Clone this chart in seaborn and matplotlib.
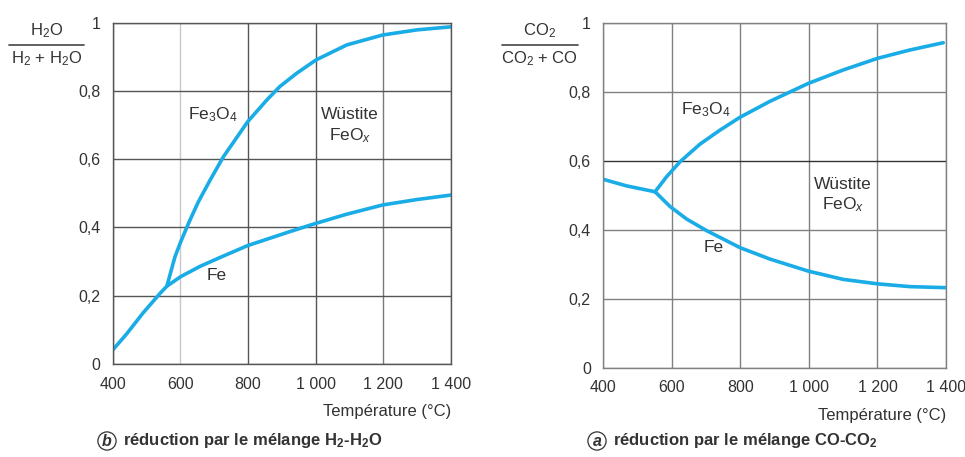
import seaborn as sns
import matplotlib.pyplot as plt

# --- data ---
# H2-H2O (panel b)
h2_fe_T = [400, 441, 490, 540, 560, 601, 658, 717, 799, 924, 1000, 1092, 1198, 1300, 1400]
h2_fe_y = [0.041, 0.088, 0.150, 0.207, 0.228, 0.256, 0.286, 0.312, 0.347, 0.388, 0.412, 0.439, 0.466, 0.482, 0.495]
h2_fe3o4_T = [560, 584, 601, 624, 653, 688, 727, 799, 855, 894, 944, 1001, 1092, 1198, 1299, 1400]
h2_fe3o4_y = [0.228, 0.314, 0.358, 0.412, 0.475, 0.539, 0.607, 0.710, 0.773, 0.813, 0.852, 0.891, 0.935, 0.964, 0.979, 0.988]

# CO-CO2 (panel a)
co_low_T = [400, 468, 551]
co_low_y = [0.546, 0.527, 0.510]
co_fe3o4_T = [551, 585, 624, 682, 741, 799, 886, 998, 1100, 1201, 1295, 1392]
co_fe3o4_y = [0.510, 0.554, 0.597, 0.648, 0.689, 0.726, 0.772, 0.824, 0.863, 0.897, 0.921, 0.942]
co_fe_T = [551, 595, 643, 702, 799, 886, 998, 1100, 1201, 1295, 1400]
co_fe_y = [0.510, 0.467, 0.431, 0.397, 0.348, 0.315, 0.280, 0.256, 0.243, 0.235, 0.232]

x_ticks = [400, 600, 800, 1000, 1200, 1400]
x_labels = ['400', '600', '800', '1 000', '1 200', '1 400']
y_ticks = [0, 0.2, 0.4, 0.6, 0.8, 1]
y_labels = ['0', '0,2', '0,4', '0,6', '0,8', '1']

sns.set_style('white')
plt.rcParams['font.family'] = ['Liberation Sans', 'DejaVu Sans']
plt.rcParams['mathtext.fontset'] = 'custom'
plt.rcParams['mathtext.rm'] = 'Liberation Sans'
plt.rcParams['mathtext.it'] = 'Liberation Sans:italic'
plt.rcParams['mathtext.bf'] = 'Liberation Sans:bold'

blue = '#19ace6'
txt = '#333333'

fig = plt.figure(figsize=(9.65, 4.57), dpi=100)
axb = fig.add_axes([0.1168, 0.2035, 0.3506, 0.7468])
axa = fig.add_axes([0.6252, 0.1954, 0.3551, 0.7549])


def style(ax, grid_c):
    ax.set_xlim(400, 1400)
    ax.set_ylim(0, 1)
    ax.set_xticks(x_ticks)
    ax.set_xticklabels(x_labels)
    ax.set_yticks(y_ticks)
    ax.set_yticklabels(y_labels)
    ax.tick_params(direction='out', length=7, width=1, color=grid_c,
                   labelsize=11.5, labelcolor=txt, pad=2)
    ax.grid(True, color=grid_c, lw=1)
    for s in ax.spines.values():
        s.set_color(grid_c)
        s.set_linewidth(1)
    ax.set_xlabel('Température (°C)', fontsize=12, color=txt, loc='right', labelpad=9)
    ax.set_ylabel('')


kw = dict(color=blue, lw=2.6, sort=False, solid_capstyle='round', solid_joinstyle='round')

sns.lineplot(x=h2_fe_T, y=h2_fe_y, ax=axb, **kw)
sns.lineplot(x=h2_fe3o4_T, y=h2_fe3o4_y, ax=axb, **kw)
style(axb, '#555555')
axb.get_xgridlines()[1].set_color('#c8c8c8')
for gl in axb.get_xgridlines()[4:]:
    gl.set_color('#7a7a7a')
fs = 12.5
axb.text(696, 0.73, 'Fe$_3$O$_4$', fontsize=fs, color=txt, ha='center', va='center')
axb.text(1101, 0.73, 'Wüstite', fontsize=fs, color=txt, ha='center', va='center')
axb.text(1101, 0.67, 'FeO$_\\mathit{x}$', fontsize=fs, color=txt, ha='center', va='center')
axb.text(707, 0.26, 'Fe', fontsize=fs, color=txt, ha='center', va='center')

sns.lineplot(x=co_low_T, y=co_low_y, ax=axa, **kw)
sns.lineplot(x=co_fe3o4_T, y=co_fe3o4_y, ax=axa, **kw)
sns.lineplot(x=co_fe_T, y=co_fe_y, ax=axa, **kw)
style(axa, '#808080')
axa.get_ygridlines()[3].set_color('#333333')
axa.text(700, 0.747, 'Fe$_3$O$_4$', fontsize=fs, color=txt, ha='center', va='center')
axa.text(1100, 0.53, 'Wüstite', fontsize=fs, color=txt, ha='center', va='center')
axa.text(1100, 0.474, 'FeO$_\\mathit{x}$', fontsize=fs, color=txt, ha='center', va='center')
axa.text(723, 0.347, 'Fe', fontsize=fs, color=txt, ha='center', va='center')

# y axis fractions (top-left of each panel)
W, H = 965, 457


def frac(xc, x0, x1, num, den):
    fig.text(xc / W, 1 - 31 / H, num, fontsize=12, color=txt, ha='center', va='center')
    fig.text(xc / W, 1 - 59 / H, den, fontsize=12, color=txt, ha='center', va='center')
    fig.add_artist(plt.Line2D([x0 / W, x1 / W], [1 - 45 / H, 1 - 45 / H],
                              color='#555555', lw=1.3, transform=fig.transFigure))


frac(47, 9, 84, 'H$_2$O', 'H$_2$ + H$_2$O')
frac(540, 502, 578, 'CO$_2$', 'CO$_2$ + CO')


# captions
def caption(x, letter, text):
    fig.text(x / W, 1 - 441 / H, letter, fontsize=11.5, color=txt, fontweight='bold',
             fontstyle='italic', ha='center', va='center',
             bbox=dict(boxstyle='circle,pad=0.1', fc='white', ec=txt, lw=0.9))
    fig.text((x + 16) / W, 1 - 441 / H, text, fontsize=12, color=txt,
             fontweight='bold', ha='left', va='center')


caption(107, 'b', 'réduction par le mélange H$_\\mathbf{2}$-H$_\\mathbf{2}$O')
caption(597, 'a', 'réduction par le mélange CO-CO$_\\mathbf{2}$')

fig.savefig('out.png', dpi=100)
